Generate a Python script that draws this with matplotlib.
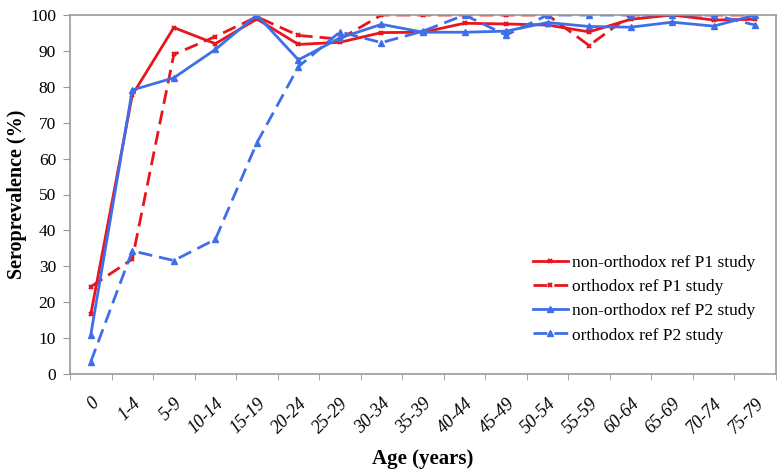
import matplotlib
matplotlib.use("Agg")
import matplotlib.pyplot as plt
import numpy as np

categories = ["0", "1-4", "5-9", "10-14", "15-19", "20-24", "25-29", "30-34", "35-39",
              "40-44", "45-49", "50-54", "55-59", "60-64", "65-69", "70-74", "75-79"]
nonorth_p1 = [16.6, 77.7, 96.5, 92.0, 98.9, 91.8, 92.4, 95.1, 95.2, 97.7, 97.5, 97.2, 95.3, 98.8, 100.0, 98.6, 98.8]
orth_p1 = [24.3, 32.0, 89.0, 94.0, 99.5, 94.3, 93.3, 100.0, 100.0, 100.0, 100.0, 100.0, 91.5, 100.0, 100.0, 100.0, 100.0]
nonorth_p2 = [10.9, 79.1, 82.5, 90.4, 100.0, 87.5, 93.6, 97.4, 95.2, 95.2, 95.5, 97.9, 96.8, 96.6, 98.0, 96.9, 100.0]
orth_p2 = [3.4, 34.3, 31.6, 37.5, 64.4, 85.6, 95.3, 92.3, 95.5, 100.0, 94.4, 100.0, 100.0, 100.0, 100.0, 100.0, 97.2]
series_labels = ["non-orthodox ref P1 study", "orthodox ref P1 study",
                 "non-orthodox ref P2 study", "orthodox ref P2 study"]
yticks = list(range(0, 101, 10))

plt.rcParams['font.family'] = ['Liberation Serif', 'DejaVu Serif']

fig = plt.figure(figsize=(7.83, 4.71), dpi=100)
ax = fig.add_axes([70/783, 1-374/471, 706/783, 359/471])

x = np.arange(len(categories))
red = "#e8161c"
blue = "#3f6fe8"
ax.plot(x, nonorth_p1, color=red, lw=2, ls='-', marker='x', ms=3.5, mew=1.5, label=series_labels[0])
ax.plot(x, orth_p1, color=red, lw=2, ls=(0, (5, 2.5)), marker='x', ms=3.5, mew=1.5, label=series_labels[1])
ax.plot(x, nonorth_p2, color=blue, lw=2, ls='-', marker='^', ms=5, label=series_labels[2])
ax.plot(x, orth_p2, color=blue, lw=2, ls=(0, (5, 2.5)), marker='^', ms=5, label=series_labels[3])

ax.set_xlim(-0.5, len(categories) - 0.5)
ax.set_ylim(0, 100)
ax.set_yticks(yticks)
ax.set_yticklabels([str(t) for t in yticks], fontsize=12.5)
ax.set_xticks(x)
ax.set_xticklabels(categories, fontsize=13, style='italic', rotation=45, ha='right',
                   rotation_mode='anchor')
ax.set_xticks(np.arange(-0.5, len(categories), 1), minor=True)
ax.tick_params(axis='x', which='major', length=0, pad=15)
ax.tick_params(axis='x', which='minor', length=4, color='#999999')
ax.tick_params(axis='y', length=5, color='#999999', pad=5)
for s in ax.spines.values():
    s.set_color('#999999')
    s.set_linewidth(1.2)

ax.set_xlabel("Age (years)", fontsize=15, fontweight='bold', labelpad=9)
ax.set_ylabel("Seroprevalence (%)", fontsize=14.5, fontweight='bold', va='center')
ax.yaxis.set_label_coords((17 - 70) / 706, 0.5)

leg = ax.legend(loc='upper left', bbox_to_anchor=((533 - 70) / 706, (374 - 255) / 359),
                frameon=False, fontsize=12.5, borderpad=0, borderaxespad=0,
                handlelength=2.0, handletextpad=0.25, labelspacing=0.46)

fig.savefig("out.png", dpi=100)
